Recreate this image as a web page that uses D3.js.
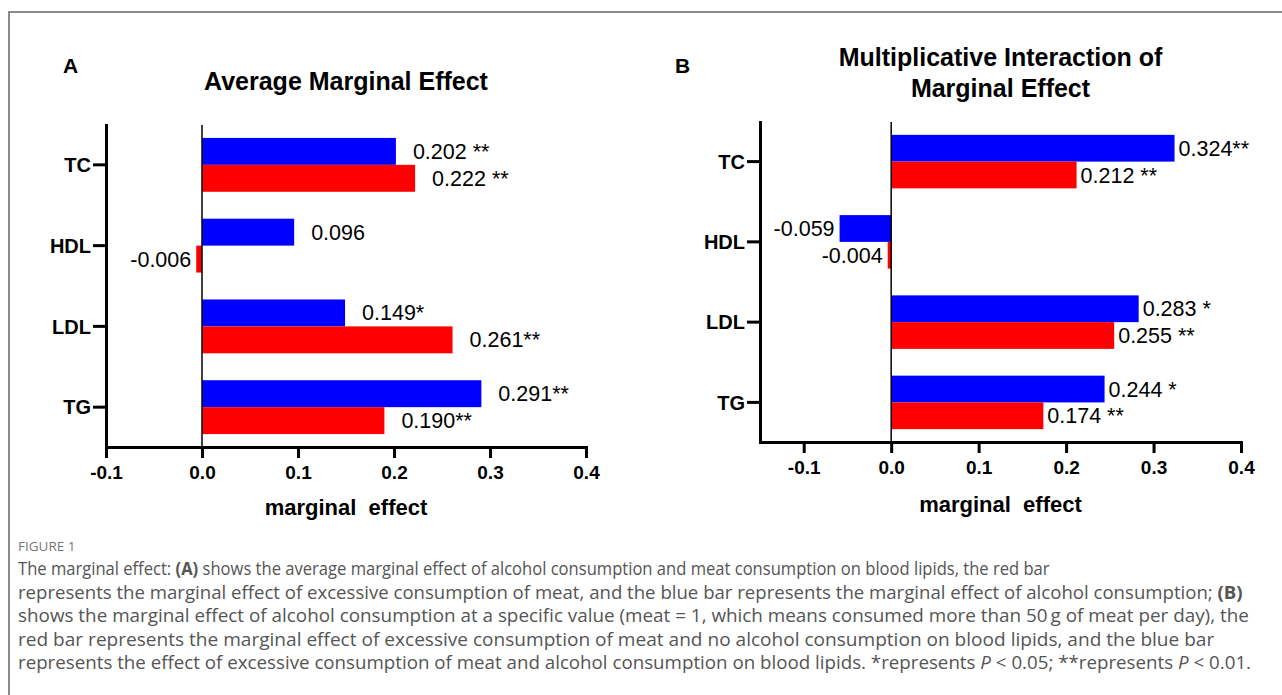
<!DOCTYPE html>
<html>
<head>
<meta charset="utf-8">
<script src="https://cdn.jsdelivr.net/npm/d3@7"></script>
<style>
  body { margin: 0; background: #fff; }
  svg { display: block; }
  .axis path, .axis line { stroke: #000; stroke-width: 3; }
  .axis text { font-family: "Liberation Sans", Arial, sans-serif; font-weight: bold; font-size: 19px; fill: #000; }
  .yax text { font-size: 20px; }
  .zero { stroke: #000; stroke-width: 1.5; }
  .val { font-family: "Liberation Sans", Arial, sans-serif; font-size: 21.5px; fill: #000; }
  .title { font-family: "Liberation Sans", Arial, sans-serif; font-weight: bold; font-size: 25px; fill: #000; }
  .caption { font-family: "Open Sans", sans-serif; font-size: 18px; fill: #555; }
</style>
</head>
<body>
<svg id="fig" width="1282" height="695"></svg>
<script>
var categories = ["TC", "HDL", "LDL", "TG"];
var xTicks = [-0.1, 0.0, 0.1, 0.2, 0.3, 0.4];

// panel A : average marginal effect
var aBlue = [0.202, 0.096, 0.149, 0.291];
var aRed = [0.222, -0.006, 0.261, 0.190];
var aBlueLabels = ["0.202 **", "0.096", "0.149*", "0.291**"];
var aRedLabels = ["0.222 **", "-0.006", "0.261**", "0.190**"];

// panel B : multiplicative interaction
var bBlue = [0.324, -0.059, 0.283, 0.244];
var bRed = [0.212, -0.004, 0.255, 0.174];
var bBlueLabels = ["0.324**", "-0.059", "0.283 *", "0.244 *"];
var bRedLabels = ["0.212 **", "-0.004", "0.255 **", "0.174 **"];

var captionHead = "FIGURE 1";
// each line: [text, style] pieces, style "" / "b" / "i"
var captionLines = [
  [["The marginal effect: ", ""], ["(A)", "b"], [" shows the average marginal effect of alcohol consumption and meat consumption on blood lipids, the red bar", ""]],
  [["represents the marginal effect of excessive consumption of meat, and the blue bar represents the marginal effect of alcohol consumption; ", ""], ["(B)", "b"]],
  [["shows the marginal effect of alcohol consumption at a specific value (meat = 1, which means consumed more than 50\u2009g of meat per day), the", ""]],
  [["red bar represents the marginal effect of excessive consumption of meat and no alcohol consumption on blood lipids, and the blue bar", ""]],
  [["represents the effect of excessive consumption of meat and alcohol consumption on blood lipids. *represents ", ""], ["P", "i"], [" < 0.05; **represents ", ""], ["P", "i"], [" < 0.01.", ""]]
];
var captionWidths = [1032, 1225, 1232, 1197, 1234];

var svg = d3.select("#fig");

// frame of the figure
svg.append("path")
  .attr("d", "M9,695V12H1282")
  .attr("fill", "none")
  .attr("stroke", "#666")
  .attr("stroke-width", 1.5);

function drawPanel(cfg){
  var g = svg.append("g");

  var x = d3.scaleLinear()
      .domain(cfg.domain)
      .range(cfg.xRange);

  var y = d3.scaleBand()
      .domain(categories)
      .range(cfg.yRange)
      .paddingInner(1/3)
      .paddingOuter(0.16);

  var half = y.bandwidth()/2;

  var rows = categories.map(function(c, i){
    return [
      {cat: c, v: cfg.blue[i], label: cfg.blueLabels[i], off: 0, color: "#0000ff"},
      {cat: c, v: cfg.red[i], label: cfg.redLabels[i], off: half, color: "#ff0000"}
    ];
  });
  var bars = [].concat.apply([], rows);

  g.selectAll("rect.bar").data(bars).enter().append("rect")
    .attr("class", "bar")
    .attr("x", function(d){ return x(Math.min(0, d.v)); })
    .attr("y", function(d){ return y(d.cat) + d.off; })
    .attr("width", function(d){ return Math.abs(x(d.v) - x(0)); })
    .attr("height", half)
    .attr("fill", function(d){ return d.color; });

  g.selectAll("text.val").data(bars).enter().append("text")
    .attr("class", "val")
    .attr("x", function(d){ return d.v < 0 ? x(d.v) - cfg.negGap : x(d.v) + cfg.posGap; })
    .attr("y", function(d){ return y(d.cat) + d.off + half/2; })
    .attr("dy", "0.35em")
    .attr("text-anchor", function(d){ return d.v < 0 ? "end" : "start"; })
    .text(function(d){ return d.label; });

  // zero line
  g.append("line")
    .attr("class", "zero")
    .attr("x1", x(0)).attr("x2", x(0))
    .attr("y1", cfg.yRange[0]).attr("y2", cfg.yRange[1]);

  var xAxis = d3.axisBottom(x)
      .tickValues(xTicks)
      .tickSize(11)
      .tickSizeOuter(0)
      .tickPadding(8)
      .tickFormat(function(d){ return d.toFixed(1); });

  var yAxis = d3.axisLeft(y)
      .tickSize(13)
      .tickSizeOuter(0)
      .tickPadding(2);

  g.append("g")
    .attr("class", "axis")
    .attr("transform", "translate(0," + cfg.yRange[1] + ")")
    .call(xAxis);

  g.append("g")
    .attr("class", "axis yax")
    .attr("transform", "translate(" + cfg.xRange[0] + ",0)")
    .call(yAxis)
    .selectAll("text").attr("dy", "0.36em");

  g.selectAll(".axis path").attr("stroke-linecap", "square");

  // panel letter
  g.append("text")
    .attr("class", "title")
    .style("font-size", "21px")
    .attr("x", cfg.letterX).attr("y", 73)
    .text(cfg.letter);

  var cx = (cfg.xRange[0] + cfg.xRange[1])/2;
  g.selectAll("text.ttl").data(cfg.title).enter().append("text")
    .attr("class", "title")
    .attr("text-anchor", "middle")
    .attr("x", cx)
    .attr("y", function(d, i){ return cfg.titleY + i*31; })
    .text(function(d){ return d; });

  g.append("text")
    .attr("class", "title")
    .style("font-size", "22px")
    .attr("text-anchor", "middle")
    .attr("x", cx)
    .attr("y", cfg.xlabY)
    .attr("xml:space", "preserve")
    .text("marginal  effect");
}

drawPanel({
  domain: [-0.1, 0.4], xRange: [106, 586], yRange: [125, 447],
  blue: aBlue, red: aRed, blueLabels: aBlueLabels, redLabels: aRedLabels,
  posGap: 17, negGap: 5,
  letter: "A", letterX: 63,
  title: ["Average Marginal Effect"], titleY: 90,
  xlabY: 515
});

drawPanel({
  domain: [-0.15, 0.4], xRange: [760, 1241], yRange: [122, 442],
  blue: bBlue, red: bRed, blueLabels: bBlueLabels, redLabels: bRedLabels,
  posGap: 4, negGap: 5,
  letter: "B", letterX: 675,
  title: ["Multiplicative Interaction of", "Marginal Effect"], titleY: 66,
  xlabY: 512
});

// caption
svg.append("text")
  .attr("class", "caption")
  .style("font-size", "13.5px")
  .style("fill", "#777")
  .attr("x", 18).attr("y", 551)
  .text(captionHead);

captionLines.forEach(function(line, i){
  var t = svg.append("text")
    .attr("class", "caption")
    .attr("xml:space", "preserve");
  line.forEach(function(p){
    var s = t.append("tspan").text(p[0]);
    if(p[1] == "b"){ s.attr("font-weight", "bold"); }
    if(p[1] == "i"){ s.attr("font-style", "italic"); }
  });
  // squeeze each line to the width it has in the figure
  var k = captionWidths[i] / t.node().getComputedTextLength();
  t.attr("transform", "translate(18," + (575 + i*23.5) + ") scale(" + k + ",1)");
});
</script>
</body>
</html>
